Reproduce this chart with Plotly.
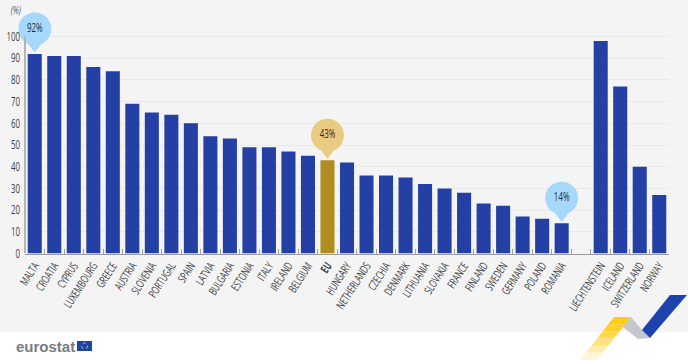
import plotly.graph_objects as go

categories = ["MALTA","CROATIA","CYPRUS","LUXEMBOURG","GREECE","AUSTRIA","SLOVENIA","PORTUGAL","SPAIN","LATVIA","BULGARIA","ESTONIA","ITALY","IRELAND","BELGIUM","EU","HUNGARY","NETHERLANDS","CZECHIA","DENMARK","LITHUANIA","SLOVAKIA","FRANCE","FINLAND","SWEDEN","GERMANY","POLAND","ROMANIA"," ","LIECHTENSTEIN","ICELAND","SWITZERLAND","NORWAY"]
values = [92,91,91,86,84,69,65,64,60,54,53,49,49,47,45,43,42,36,36,35,32,30,28,23,22,17,16,14,None,98,77,40,27]
y_ticks = [0,10,20,30,40,50,60,70,80,90,100]
callouts = ["MALTA","EU","ROMANIA"]
callout_values = [92,43,14]
callout_text = ["92%","43%","14%"]
callout_colors = ["#a5d8fa","#e9cb82","#a5d8fa"]

W, H = 688, 360
AX_L, AX_R, AX_TOP, AX_BOT = 25, 669, 4, 253.5
FONT = "Open Sans, Roboto, sans-serif"
px = lambda x: x / W
py = lambda y: 1 - y / H

colors = ["#b08d1e" if c == "EU" else "#2440a5" for c in categories]
ticktext = ["<b>EU</b>" if c == "EU" else c for c in categories]
fig = go.Figure()
fig.add_bar(x=categories, y=values, marker=dict(color=colors, line_width=0), width=0.72, showlegend=False)
fig.add_scatter(x=callouts, y=[v + 3.2 for v in callout_values], mode="markers", showlegend=False,
                marker=dict(symbol="triangle-down", size=11, color=callout_colors, line_width=0), cliponaxis=False)
fig.add_scatter(x=callouts, y=[v + 11.5 for v in callout_values], mode="markers+text", showlegend=False,
                marker=dict(symbol="circle", size=33, color=callout_colors, line_width=0), cliponaxis=False,
                text=callout_text, textposition="middle center", textfont=dict(family=FONT, size=12, color="#222a35"))

def poly(pts, color):
    d = "M" + " L".join(f"{px(x):.4f},{py(y):.4f}" for x, y in pts) + " Z"
    return dict(type="path", xref="paper", yref="paper", path=d, fillcolor=color, line_width=0, layer="above")

shapes = [dict(type="rect", xref="paper", yref="paper", x0=0, x1=1, y0=0, y1=py(332), fillcolor="white", line_width=0, layer="below"),
          dict(type="line", xref="x domain", yref="y", x0=0, x1=0, y0=0, y1=100, line=dict(color="#b5b5b5", width=2), layer="above")]
yellow = ["#ffcc12","#ffcf2a","#ffd84e","#ffe27e","#ffedad","#fff6d9"]
n = len(yellow)
for i, c in enumerate(yellow):
    t0, t1 = i / n, (i + 1) / n
    shapes.append(poly([(614 - 34 * t0, 317 + 43 * t0), (631 - 34 * t0, 317 + 43 * t0), (631 - 34 * t1, 317 + 43 * t1), (614 - 34 * t1, 317 + 43 * t1)], c))
shapes.append(poly([(631,317),(642,330),(650,338),(638,339),(623,327)], "#c4c7cb"))
shapes.append(poly([(670,295),(687,295),(650,338),(642,330)], "#1d43ad"))
shapes.append(dict(type="rect", xref="paper", yref="paper", x0=px(77), x1=px(92), y0=py(351), y1=py(341), fillcolor="#1b46a8", line_width=0, layer="above"))
shapes.append(dict(type="circle", xref="paper", yref="paper", x0=px(81.5), x1=px(87.5), y0=py(349), y1=py(343), fillcolor="rgba(0,0,0,0)", line=dict(color="#d9c85a", width=1, dash="dot"), layer="above"))

fig.update_layout(
    width=W, height=H, margin=dict(l=0, r=0, t=0, b=0, pad=0),
    paper_bgcolor="#f4f4f4", plot_bgcolor="rgba(0,0,0,0)",
    font=dict(family=FONT, size=11.5, color="#3a3f47"),
    shapes=shapes,
    annotations=[
        dict(text="<i>(%)</i>", xref="paper", yref="paper", x=px(6), y=py(9), xanchor="left", yanchor="middle", showarrow=False, font=dict(size=11.5, color="#555a62", family=FONT)),
        dict(text="<b>eurostat</b>", xref="paper", yref="paper", x=px(14), y=py(346), xanchor="left", yanchor="middle", showarrow=False, font=dict(size=15, color="#777c82", family="Liberation Sans")),
    ],
    xaxis=dict(domain=[px(AX_L), px(AX_R)], type="category", categoryorder="array", categoryarray=categories, tickmode="array", tickvals=categories, ticktext=ticktext,
               tickangle=-57, tickson="boundaries", ticks="inside", ticklen=5, tickcolor="#a0a0a0", showgrid=False, automargin=False,
               showline=True, linecolor="#9a9a9a", linewidth=1, range=[-0.5, 32.5], tickfont=dict(size=11.5)),
    yaxis=dict(domain=[py(AX_BOT), py(AX_TOP)], range=[0,115], tickvals=y_ticks, showgrid=True, gridcolor="#e9e9e9", griddash="solid", gridwidth=1, automargin=False,
               showline=False, ticks="", zeroline=False, tickfont=dict(size=12), ticklabelstandoff=4),
)
squeeze = """
document.body.style.margin='0';
document.querySelectorAll('.xtick text, .ytick text, .textpoint text, .annotation-text').forEach(function(t){
  if (t.textContent === 'eurostat') return;
  var x = t.getAttribute('x') || 0, y = t.getAttribute('y') || 0, tr = t.getAttribute('transform') || '';
  t.setAttribute('transform', tr + ' translate(' + x + ' ' + y + ') scale(0.66 1) translate(' + (-x) + ' ' + (-y) + ')');
});
"""
fig.write_html("out.html", post_script=squeeze, config={"displayModeBar": False})
